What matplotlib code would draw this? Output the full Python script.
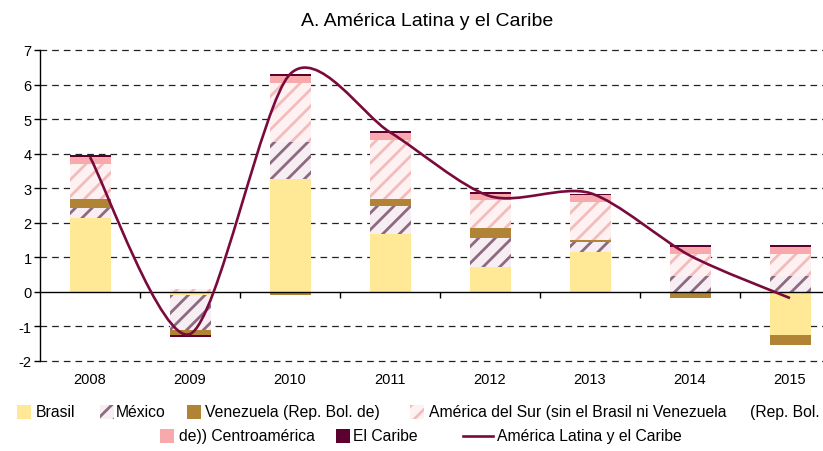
import numpy as np
import matplotlib
matplotlib.use("Agg")
import matplotlib.pyplot as plt
from matplotlib.path import Path
from matplotlib.patches import PathPatch, Rectangle
from matplotlib.lines import Line2D

plt.rcParams['font.family'] = ['Liberation Sans', 'DejaVu Sans']
plt.rcParams['hatch.linewidth'] = 2.0
plt.rcParams['lines.scale_dashes'] = False
plt.rcParams['axes.unicode_minus'] = False

# datos
anios = ['2008', '2009', '2010', '2011', '2012', '2013', '2014', '2015']
brasil = [2.14, -0.08, 3.27, 1.68, 0.73, 1.15, -0.03, -1.26]
mexico = [0.28, -1.03, 1.06, 0.80, 0.83, 0.29, 0.47, 0.47]
venezuela = [0.27, -0.13, -0.08, 0.21, 0.29, 0.05, -0.15, -0.29]
sur = [1.01, 0.09, 1.71, 1.71, 0.81, 1.12, 0.63, 0.63]
centro = [0.19, 0.0, 0.21, 0.21, 0.18, 0.19, 0.19, 0.19]
caribe = [0.07, -0.07, 0.05, 0.06, 0.06, 0.03, 0.07, 0.07]
alc = [3.9, -1.22, 6.3, 4.62, 2.77, 2.86, 1.05, -0.18]

# estilos: (color de fondo, color de trama, trama)
estilos = [
    ('#ffe896', '#ffe896', None),
    ('#f6eef2', '#8c6a80', '//'),
    ('#b08434', '#b08434', None),
    ('#fdf1f1', '#f3bcbc', '//'),
    ('#f7a9ab', '#f7a9ab', None),
    ('#5c0030', '#5c0030', None),
]
series = [brasil, mexico, venezuela, sur, centro, caribe]
color_linea = '#7a0a3c'

fig = plt.figure(figsize=(8.23, 4.52), dpi=100)
ax = fig.add_axes([40 / 823, 90 / 452, 800 / 823, 311 / 452])

x = np.arange(len(anios))
pos = np.zeros(len(anios))
neg = np.zeros(len(anios))
for vals, (fc, hc, hatch) in zip(series, estilos):
    v = np.array(vals)
    base = np.where(v >= 0, pos, neg)
    ax.bar(x, v, 0.41, bottom=base, facecolor=fc, edgecolor=hc,
           hatch=hatch, linewidth=0, zorder=2)
    pos = pos + np.where(v >= 0, v, 0)
    neg = neg + np.where(v < 0, v, 0)

# linea suavizada (bezier tipo Excel)
tension = 1 / 7.2
pts = np.column_stack([x, alc]).astype(float)
verts = [pts[0]]
codes = [Path.MOVETO]
for i in range(len(pts) - 1):
    p0 = pts[i - 1] if i > 0 else pts[i]
    p3 = pts[i + 2] if i + 2 < len(pts) else pts[i + 1]
    c1 = pts[i] + (pts[i + 1] - p0) * tension
    c2 = pts[i + 1] - (p3 - pts[i]) * tension
    verts += [c1, c2, pts[i + 1]]
    codes += [Path.CURVE4] * 3
ax.add_patch(PathPatch(Path(verts, codes), facecolor='none',
                       edgecolor=color_linea, linewidth=1.9, zorder=4))

ax.set_xlim(-0.5, 7.5)
ax.set_ylim(-2, 7)

# rejilla
for yv in range(-2, 8):
    if yv == 0:
        continue
    ax.axhline(yv, color='#222222', linewidth=0.9, linestyle=(0, (4.8, 3.6)),
               zorder=1, clip_on=False)

for s in ['top', 'right']:
    ax.spines[s].set_visible(False)
ax.spines['left'].set_linewidth(1.0)
ax.spines['bottom'].set_position(('data', 0))
ax.spines['bottom'].set_linewidth(1.0)
ax.spines['bottom'].set_zorder(3)

ax.set_yticks(range(-2, 8))
ax.tick_params(axis='y', length=4, width=1.0, labelsize=10.5, pad=2)
ax.set_xticks(x[:-1] + 0.5)
ax.set_xticklabels([])
ax.tick_params(axis='x', length=4, width=1.0, direction='out')
for xi, lab in zip(x, anios):
    ax.text(xi, -0.035, lab, transform=ax.get_xaxis_transform(),
            ha='center', va='top', fontsize=10.5)

fig.text(427 / 823, 1 - 21 / 452, 'A. América Latina y el Caribe',
         ha='center', va='center', fontsize=14)

# leyenda manual
def caja(px, py, fc, hc, hatch):
    fig.patches.append(Rectangle((px / 823, 1 - (py + 7) / 452), 14 / 823, 14 / 452,
                                 transform=fig.transFigure, facecolor=fc,
                                 edgecolor=hc, hatch=hatch, linewidth=0))

def etiqueta(px, py, txt):
    fig.text(px / 823, 1 - py / 452, txt, ha='left', va='center', fontsize=11.3)

fila1 = 413
fila2 = 437
caja(17, fila1, *estilos[0]); etiqueta(36, fila1, 'Brasil')
caja(100, fila1, *estilos[1]); etiqueta(116, fila1, 'México')
caja(187, fila1, *estilos[2]); etiqueta(205, fila1, 'Venezuela (Rep. Bol. de)')
caja(410, fila1, *estilos[3]); etiqueta(429, fila1, 'América del Sur (sin el Brasil ni Venezuela')
etiqueta(750, fila1, '(Rep. Bol.')
caja(160, fila2, *estilos[4]); etiqueta(179, fila2, 'de)) Centroamérica')
caja(336, fila2, *estilos[5]); etiqueta(353, fila2, 'El Caribe')
fig.lines.append(Line2D([463 / 823, 493 / 823], [1 - fila2 / 452] * 2,
                        transform=fig.transFigure, color=color_linea, linewidth=1.9))
etiqueta(497, fila2, 'América Latina y el Caribe')

fig.savefig('out.png', dpi=100)
